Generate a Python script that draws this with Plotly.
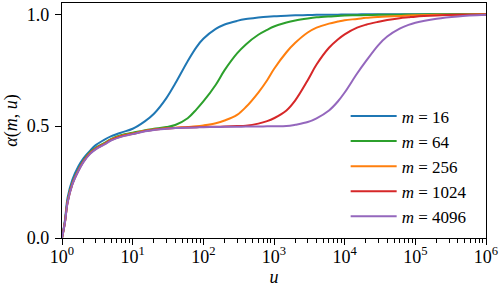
import plotly.graph_objects as go

# u values (x) on a log grid
u = [1, 1.1, 1.2, 1.4, 1.7, 2, 2.5, 3, 4, 5, 7, 10, 15, 20, 30, 40, 60, 80, 100,
     150, 200, 300, 400, 600, 800, 1000, 1500, 2000, 3000, 4000, 6000, 8000,
     10000, 15000, 20000, 30000, 40000, 60000, 80000, 100000, 200000, 400000, 1000000]

alpha_m16 = [0, 0.08, 0.18, 0.26, 0.32, 0.355, 0.39, 0.415, 0.44, 0.455, 0.472, 0.488, 0.522, 0.555,
             0.625, 0.69, 0.79, 0.853, 0.89, 0.934, 0.954, 0.97, 0.978, 0.985, 0.989, 0.991, 0.993,
             0.995, 0.996, 0.997, 0.998, 0.998, 0.999, 0.999, 1.0, 1.0, 1.0, 1.0, 1.0, 1.0, 1.0, 1.0, 1.0]

alpha_m64 = [0, 0.072, 0.165, 0.245, 0.305, 0.345, 0.383, 0.403, 0.425, 0.443, 0.46, 0.47, 0.482, 0.488,
             0.496, 0.505, 0.535, 0.575, 0.61, 0.685, 0.75, 0.825, 0.865, 0.908, 0.93, 0.945, 0.963,
             0.972, 0.981, 0.986, 0.99, 0.992, 0.994, 0.995, 0.996, 0.997, 0.998, 0.998, 0.999, 0.999, 1.0, 1.0, 1.0]

alpha_m256 = [0, 0.07, 0.162, 0.242, 0.302, 0.342, 0.38, 0.40, 0.422, 0.44, 0.457, 0.467, 0.479, 0.485,
              0.49, 0.493, 0.496, 0.499, 0.503, 0.513, 0.525, 0.55, 0.585, 0.65, 0.705, 0.755, 0.83,
              0.872, 0.918, 0.94, 0.958, 0.967, 0.973, 0.979, 0.984, 0.988, 0.99, 0.992, 0.994, 0.995, 0.997, 0.998, 1.0]

alpha_m1024 = [0, 0.07, 0.16, 0.24, 0.30, 0.34, 0.378, 0.398, 0.42, 0.438, 0.455, 0.465, 0.478, 0.484,
               0.489, 0.492, 0.494, 0.495, 0.496, 0.497, 0.498, 0.50, 0.502, 0.511, 0.522, 0.535, 0.57,
               0.615, 0.705, 0.775, 0.85, 0.887, 0.91, 0.94, 0.953, 0.966, 0.974, 0.982, 0.986, 0.989, 0.994, 0.997, 0.999]

alpha_m4096 = [0, 0.068, 0.158, 0.238, 0.298, 0.338, 0.376, 0.396, 0.418, 0.436, 0.453, 0.464, 0.477, 0.483,
               0.488, 0.491, 0.493, 0.494, 0.495, 0.496, 0.497, 0.497, 0.498, 0.498, 0.499, 0.499, 0.50,
               0.506, 0.518, 0.535, 0.57, 0.61, 0.65, 0.735, 0.79, 0.862, 0.90, 0.935, 0.952, 0.962, 0.98, 0.99, 0.997]

series = [
    ("<i>m</i> = 16", alpha_m16, "#1f77b4"),
    ("<i>m</i> = 64", alpha_m64, "#2ca02c"),
    ("<i>m</i> = 256", alpha_m256, "#ff7f0e"),
    ("<i>m</i> = 1024", alpha_m1024, "#d62728"),
    ("<i>m</i> = 4096", alpha_m4096, "#9467bd"),
]

x_tickvals = [1, 10, 100, 1000, 10000, 100000, 1000000]
x_ticktext = ["10<sup>0</sup>", "10<sup>1</sup>", "10<sup>2</sup>", "10<sup>3</sup>",
              "10<sup>4</sup>", "10<sup>5</sup>", "10<sup>6</sup>"]
y_tickvals = [0, 0.5, 1.0]
y_ticktext = ["0.0", "0.5", "1.0"]

FONT = "Liberation Serif"

fig = go.Figure()
for name, vals, color in series:
    fig.add_trace(go.Scatter(
        x=u, y=vals, mode="lines", name=name,
        line=dict(color=color, width=2, shape="spline", smoothing=1.0),
        legendgroup=name,
    ))

minor_vals = [k * 10 ** d for d in range(6) for k in range(2, 10)]

axis_common = dict(
    showline=True, linecolor="black", linewidth=1.3, mirror=True,
    ticks="outside", ticklen=6, tickwidth=1.2, tickcolor="black",
    showgrid=False, zeroline=False, automargin=False,
    tickfont=dict(family=FONT, size=18, color="black"),
)

fig.update_layout(
    width=499, height=288,
    margin=dict(l=62, r=13, t=3, b=50),
    plot_bgcolor="white", paper_bgcolor="white",
    font=dict(family=FONT, size=18, color="black"),
    showlegend=True,
    legend=dict(
        x=0.669, y=0.594, xanchor="left", yanchor="top",
        bgcolor="rgba(255,255,255,0.8)", borderwidth=0,
        font=dict(family=FONT, size=17, color="black"),
        tracegroupgap=0, itemwidth=46,
    ),
    xaxis=dict(
        type="log", range=[0, 6],
        tickmode="array", tickvals=x_tickvals, ticktext=x_ticktext,
        minor=dict(tickmode="array", tickvals=minor_vals, ticks="outside",
                   ticklen=3.5, tickwidth=1, tickcolor="black", showgrid=False),
        title=dict(text="<i>u</i>", font=dict(family=FONT, size=18), standoff=0),
        ticklabelstandoff=-4,
        **axis_common,
    ),
    yaxis=dict(
        range=[0, 1.05],
        tickmode="array", tickvals=y_tickvals, ticktext=y_ticktext,
        title=dict(text="<i>α</i>(<i>m</i>, <i>u</i>)", font=dict(family=FONT, size=18), standoff=4),
        ticklabelstandoff=2,
        **axis_common,
    ),
)

fig.write_html("out.html",
               config={"displayModeBar": False},
               post_script="document.body.style.margin='0';document.body.style.padding='0';")
